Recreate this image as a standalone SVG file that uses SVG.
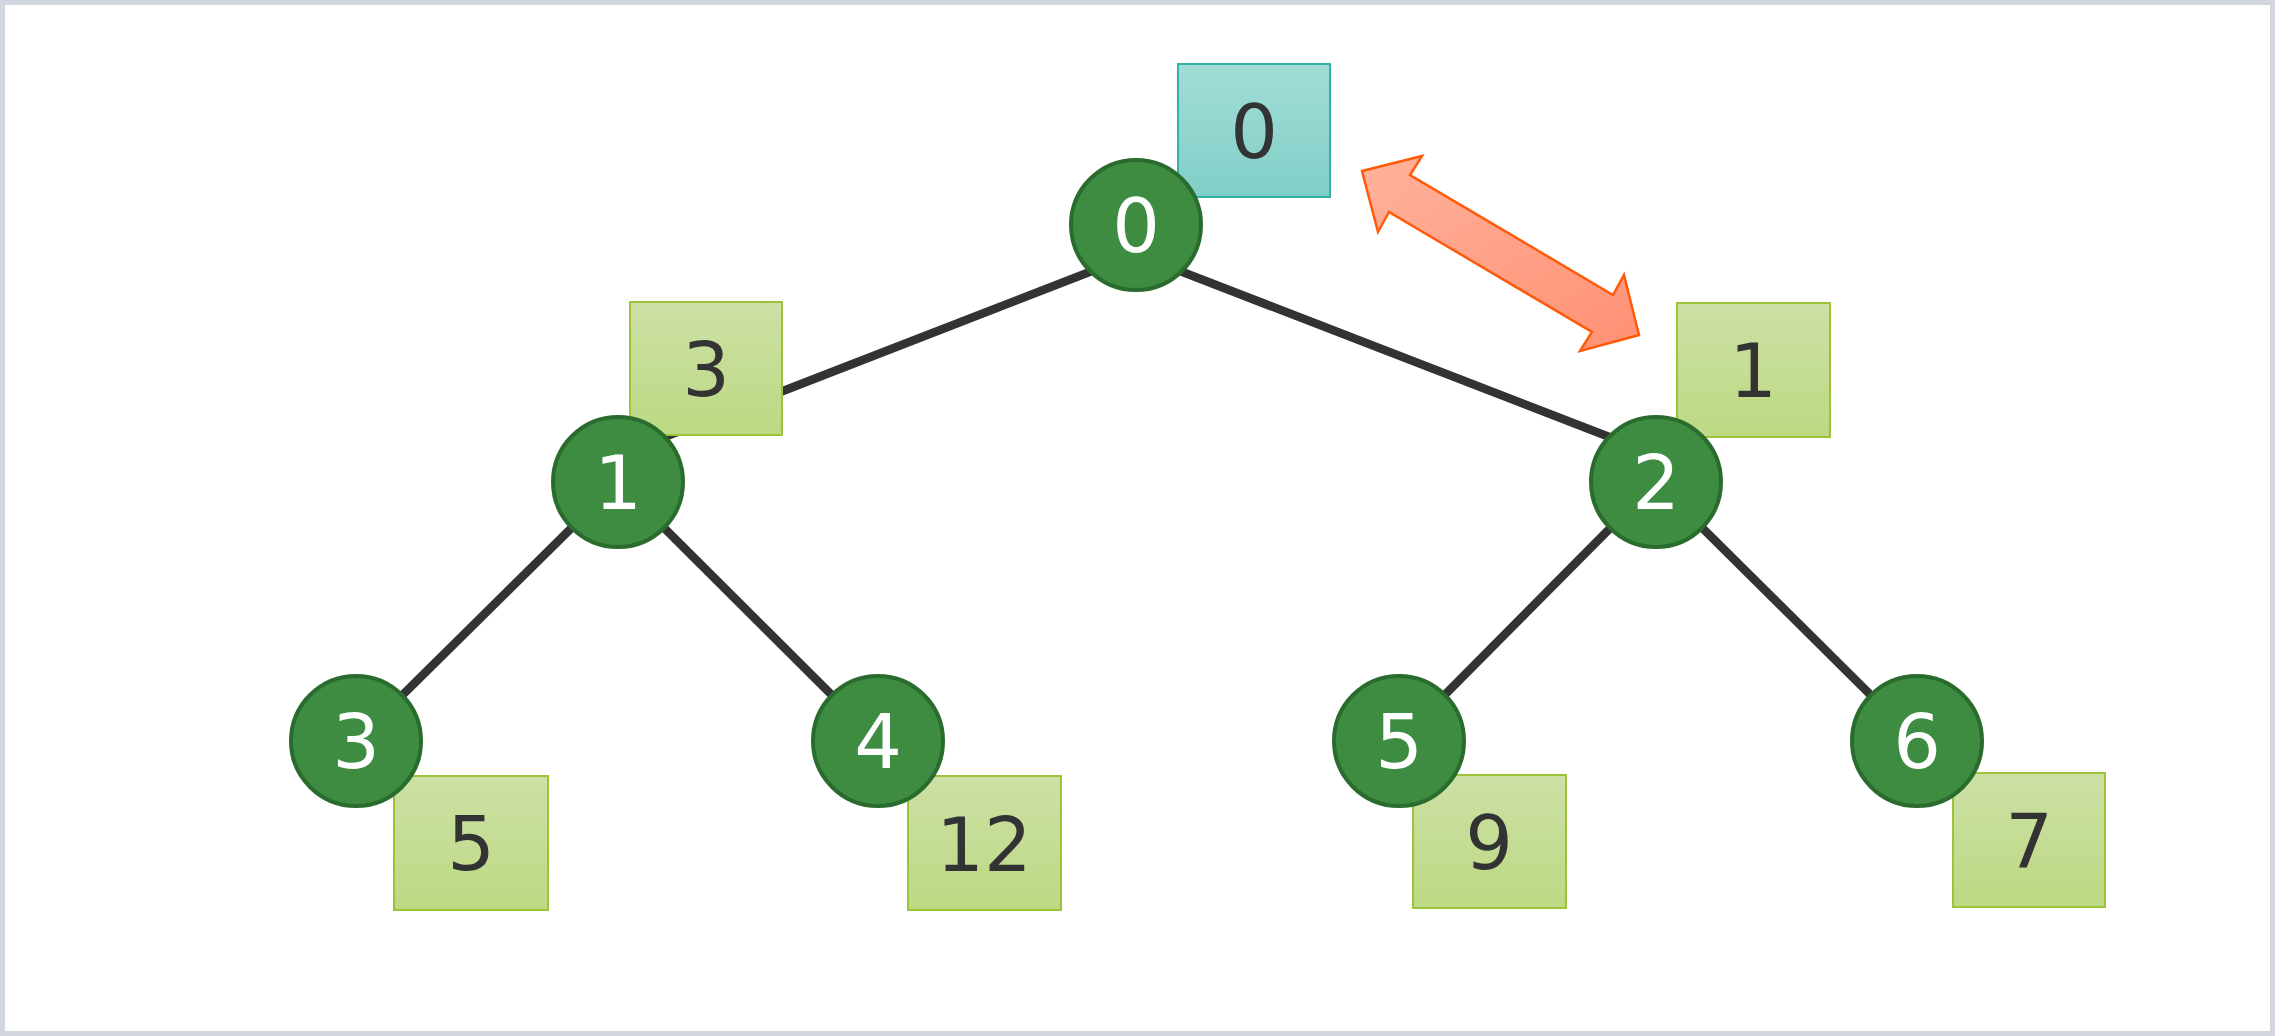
<svg xmlns="http://www.w3.org/2000/svg" width="2275" height="1036" viewBox="0 0 2275 1036">
<defs>
<linearGradient id="gGreen" x1="0" y1="0" x2="0" y2="1"><stop offset="0" stop-color="#cde0a5"/><stop offset="1" stop-color="#bcd983"/></linearGradient>
<linearGradient id="gTeal" x1="0" y1="0" x2="0" y2="1"><stop offset="0" stop-color="#a2ddd7"/><stop offset="1" stop-color="#80cfc7"/></linearGradient>
<linearGradient id="gArrow" x1="0" y1="0" x2="1" y2="1"><stop offset="0" stop-color="#ffb29c"/><stop offset="1" stop-color="#ff9074"/></linearGradient>
<style>
.edge{stroke:#333333;stroke-width:8.5;fill:none}
.node{fill:#3d8c41;stroke:#2a6b2e;stroke-width:4}
.ntext{fill:#ffffff;font-family:"DejaVu Sans",sans-serif;font-size:75px;text-anchor:middle}
.box{fill:url(#gGreen);stroke:#9dc33b;stroke-width:2}
.tbox{fill:url(#gTeal);stroke:#35b0a8;stroke-width:2}
.btext{fill:#333333;font-family:"DejaVu Sans",sans-serif;font-size:75px;text-anchor:middle}
</style>
</defs>
<rect x="2.5" y="2.5" width="2270" height="1031" fill="#ffffff" stroke="#d1d6df" stroke-width="5"/>
<g id="connectors">
<line class="edge" x1="1136" y1="254" x2="618" y2="455"/>
<line class="edge" x1="1136" y1="254" x2="1656" y2="455"/>
<line class="edge" x1="618" y1="482" x2="356" y2="741"/>
<line class="edge" x1="618" y1="482" x2="878" y2="741"/>
<line class="edge" x1="1656" y1="482" x2="1399" y2="741"/>
<line class="edge" x1="1656" y1="482" x2="1917" y2="741"/>
</g>
<g id="swap-arrow">
<polygon points="1362,171 1422,156 1410,175 1613,295 1624,275 1639,335 1580,351 1592,332 1389,212 1378,232" fill="url(#gArrow)" stroke="#ff5a0a" stroke-width="2.5" stroke-linejoin="miter"/>
</g>
<g id="label-0"><rect class="tbox" x="1178" y="64" width="152" height="133"/><text class="btext" x="1254" y="158">0</text></g>
<g id="label-3"><rect class="box" x="630" y="302" width="152" height="133"/><text class="btext" x="706" y="396">3</text></g>
<g id="label-1"><rect class="box" x="1677" y="303" width="153" height="134"/><text class="btext" x="1753" y="397">1</text></g>
<g id="label-5"><rect class="box" x="394" y="776" width="154" height="134"/><text class="btext" x="471" y="870">5</text></g>
<g id="label-12"><rect class="box" x="908" y="776" width="153" height="134"/><text class="btext" x="984" y="871">12</text></g>
<g id="label-9"><rect class="box" x="1413" y="775" width="153" height="133"/><text class="btext" x="1489" y="869">9</text></g>
<g id="label-7"><rect class="box" x="1953" y="773" width="152" height="134"/><text class="btext" x="2029" y="867">7</text></g>
<g id="node-0"><circle class="node" cx="1136" cy="225" r="65"/><text class="ntext" x="1136" y="252">0</text></g>
<g id="node-1"><circle class="node" cx="618" cy="482" r="65"/><text class="ntext" x="618" y="509">1</text></g>
<g id="node-2"><circle class="node" cx="1656" cy="482" r="65"/><text class="ntext" x="1656" y="509">2</text></g>
<g id="node-3"><circle class="node" cx="356" cy="741" r="65"/><text class="ntext" x="356" y="768">3</text></g>
<g id="node-4"><circle class="node" cx="878" cy="741" r="65"/><text class="ntext" x="878" y="768">4</text></g>
<g id="node-5"><circle class="node" cx="1399" cy="741" r="65"/><text class="ntext" x="1399" y="768">5</text></g>
<g id="node-6"><circle class="node" cx="1917" cy="741" r="65"/><text class="ntext" x="1917" y="768">6</text></g>
</svg>
